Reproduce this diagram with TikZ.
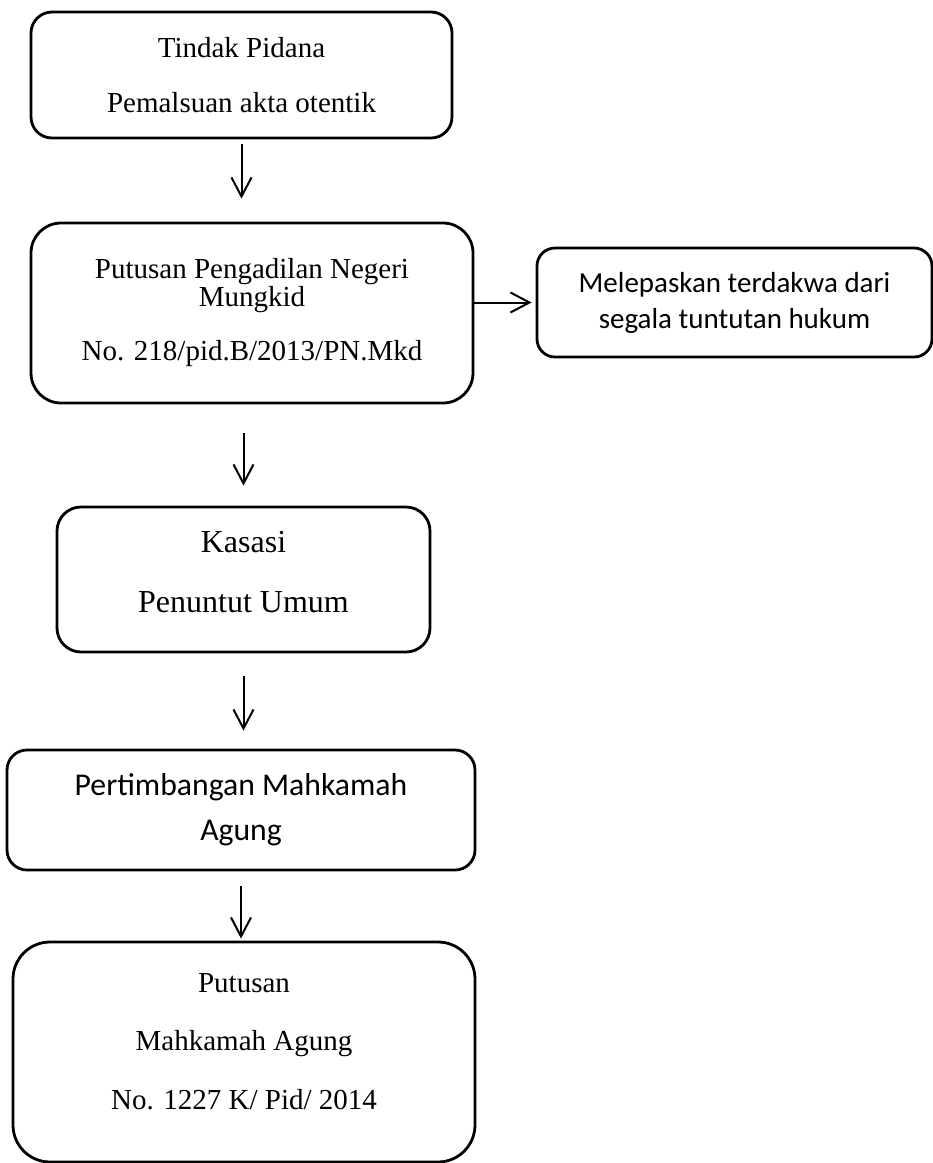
\documentclass[tikz,border=0pt]{standalone}
\usepackage{fontspec}
\setmainfont{Liberation Serif}
\newfontfamily\calibri{Carlito}
\usetikzlibrary{arrows.meta}
\begin{document}
\begin{tikzpicture}[x=1pt,y=-1pt,
        kotak/.style={draw, line width=2.8pt, align=center, inner sep=0pt},
        panah/.style={line width=2pt, -{Straight Barb[length=19pt,width=20pt,line width=2pt]}}]
        \useasboundingbox (0,0) rectangle (933,1163);
        \node[kotak, minimum width=421pt, minimum height=126pt, rounded corners=21pt,
            font=\fontsize{29}{55}\selectfont] (tindak) at (241.5,75)
            {Tindak Pidana\\Pemalsuan akta otentik};
        \node[kotak, minimum width=442pt, minimum height=180pt, rounded corners=30pt,
            font=\fontsize{29}{30}\selectfont] (putusanpn) at (252,313)
            {Putusan Pengadilan Negeri\\[-2pt]Mungkid\\[24pt]No. 218/pid.B/2013/PN.Mkd};
        \node[kotak, minimum width=395pt, minimum height=109pt, rounded corners=18pt,
            font=\calibri\fontsize{29}{36}\selectfont] (lepas) at (734.5,302.5)
            {Melepaskan terdakwa dari\\segala tuntutan hukum};
        \node[kotak, minimum width=373pt, minimum height=145pt, rounded corners=24pt,
            font=\fontsize{32}{60}\selectfont] (kasasi) at (243.5,579.5)
            {Kasasi\\Penuntut Umum\rule[-16pt]{0pt}{1pt}};
        \node[kotak, minimum width=468pt, minimum height=120pt, rounded corners=20pt,
            font=\calibri\fontsize{31.7}{45}\selectfont] (timbang) at (241,810)
            {Pertimbangan Mahkamah\\Agung};
        \node[kotak, minimum width=462pt, minimum height=220pt, rounded corners=37pt,
            font=\fontsize{29}{58.5}\selectfont] (putusanma) at (244,1052)
            {Putusan\\Mahkamah Agung\\No. 1227 K/ Pid/ 2014\rule[-22pt]{0pt}{1pt}};
        \draw[panah, shorten <=5pt, shorten >=23pt] (tindak.south) -- (tindak.south |- putusanpn.north);
        \draw[panah, shorten >=4pt] (putusanpn.east |- lepas.west) -- (lepas.west);
        \draw[panah, shorten <=29pt, shorten >=20pt] (kasasi.north |- putusanpn.south) -- (kasasi.north);
        \draw[panah, shorten <=23pt, shorten >=18pt] (kasasi.south) -- (kasasi.south |- timbang.north);
        \draw[panah, shorten <=15pt, shorten >=2pt] (timbang.south) -- (timbang.south |- putusanma.north);
\end{tikzpicture}
\end{document}
